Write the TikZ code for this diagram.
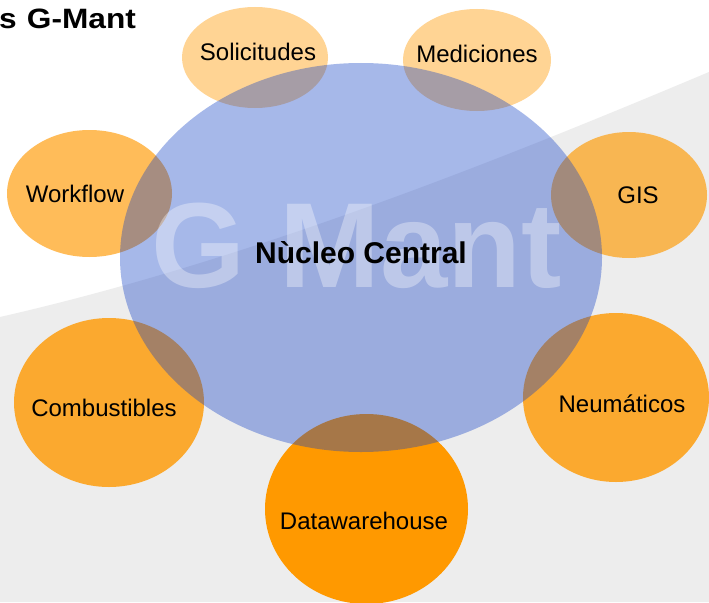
\documentclass[tikz,border=0pt]{standalone}
\usepackage{fontspec}
\setmainfont{Liberation Sans}
\usetikzlibrary{shapes.geometric}
\definecolor{org}{RGB}{255,153,0}
\definecolor{blu}{RGB}{15,63,198}
\definecolor{bggray}{RGB}{237,237,237}
\tikzset{
  blob/.style={ellipse, draw=none, fill=org, inner sep=0pt},
  lbl/.style={inner sep=0pt, font=\fontsize{24}{29}\selectfont, text=black},
}
\begin{document}
\begin{tikzpicture}[x=1pt,y=-1pt]
\useasboundingbox (0,0) rectangle (709,602);
\clip (0,0) rectangle (709,602);
\fill[white] (0,0) rectangle (709,602);
\fill[bggray] (0,317) .. controls (250,260) and (500,160) .. (709,72) -- (709,602) -- (0,602) -- cycle;
% satellites
\node[blob, fill opacity=0.42, minimum width=146, minimum height=101] (sol) at (255,57.5) {};
\node[blob, fill opacity=0.42, minimum width=148, minimum height=102] (med) at (477,60) {};
\node[blob, fill opacity=0.65, minimum width=165, minimum height=127] (wf) at (89.5,193.5) {};
\node[blob, fill opacity=0.65, minimum width=156, minimum height=126] (gis) at (629,195) {};
\node[blob, fill opacity=0.80, minimum width=190, minimum height=169] (comb) at (109,402.5) {};
\node[blob, fill opacity=0.80, minimum width=186, minimum height=169] (neu) at (616,397.5) {};
\node[blob, minimum width=203, minimum height=190] (dw) at (366.5,509) {};
% core
\node[ellipse, draw=none, fill=blu, fill opacity=0.37, inner sep=0pt,
      minimum width=482, minimum height=389] (core) at (361,257.5) {};
% watermark
\node[inner sep=0pt, anchor=base, text=white, text opacity=0.35,
      font=\fontsize{121}{121}\bfseries\selectfont] (wm) at (357,287) {G Mant};
% labels
\node[lbl] (tsol) at (258,52) {Solicitudes};
\node[lbl] (tmed) at (477,54) {Mediciones};
\node[lbl] (twf) at (75,194) {Workflow};
\node[lbl] (tgis) at (638,195) {GIS};
\node[lbl] (tcomb) at (104,408) {Combustibles};
\node[lbl] (tneu) at (622,404) {Neumáticos};
\node[lbl] (tdw) at (364,521) {Datawarehouse};
\node[inner sep=0pt, font=\fontsize{30}{36}\bfseries\selectfont] (tcore) at (361,253) {Nùcleo Central};
% title
\node[inner sep=0pt, anchor=base west, xscale=1.13, font=\fontsize{28}{32}\bfseries\selectfont] (title) at (-1,29) {s\hspace{9pt}G-Mant};
\end{tikzpicture}
\end{document}
